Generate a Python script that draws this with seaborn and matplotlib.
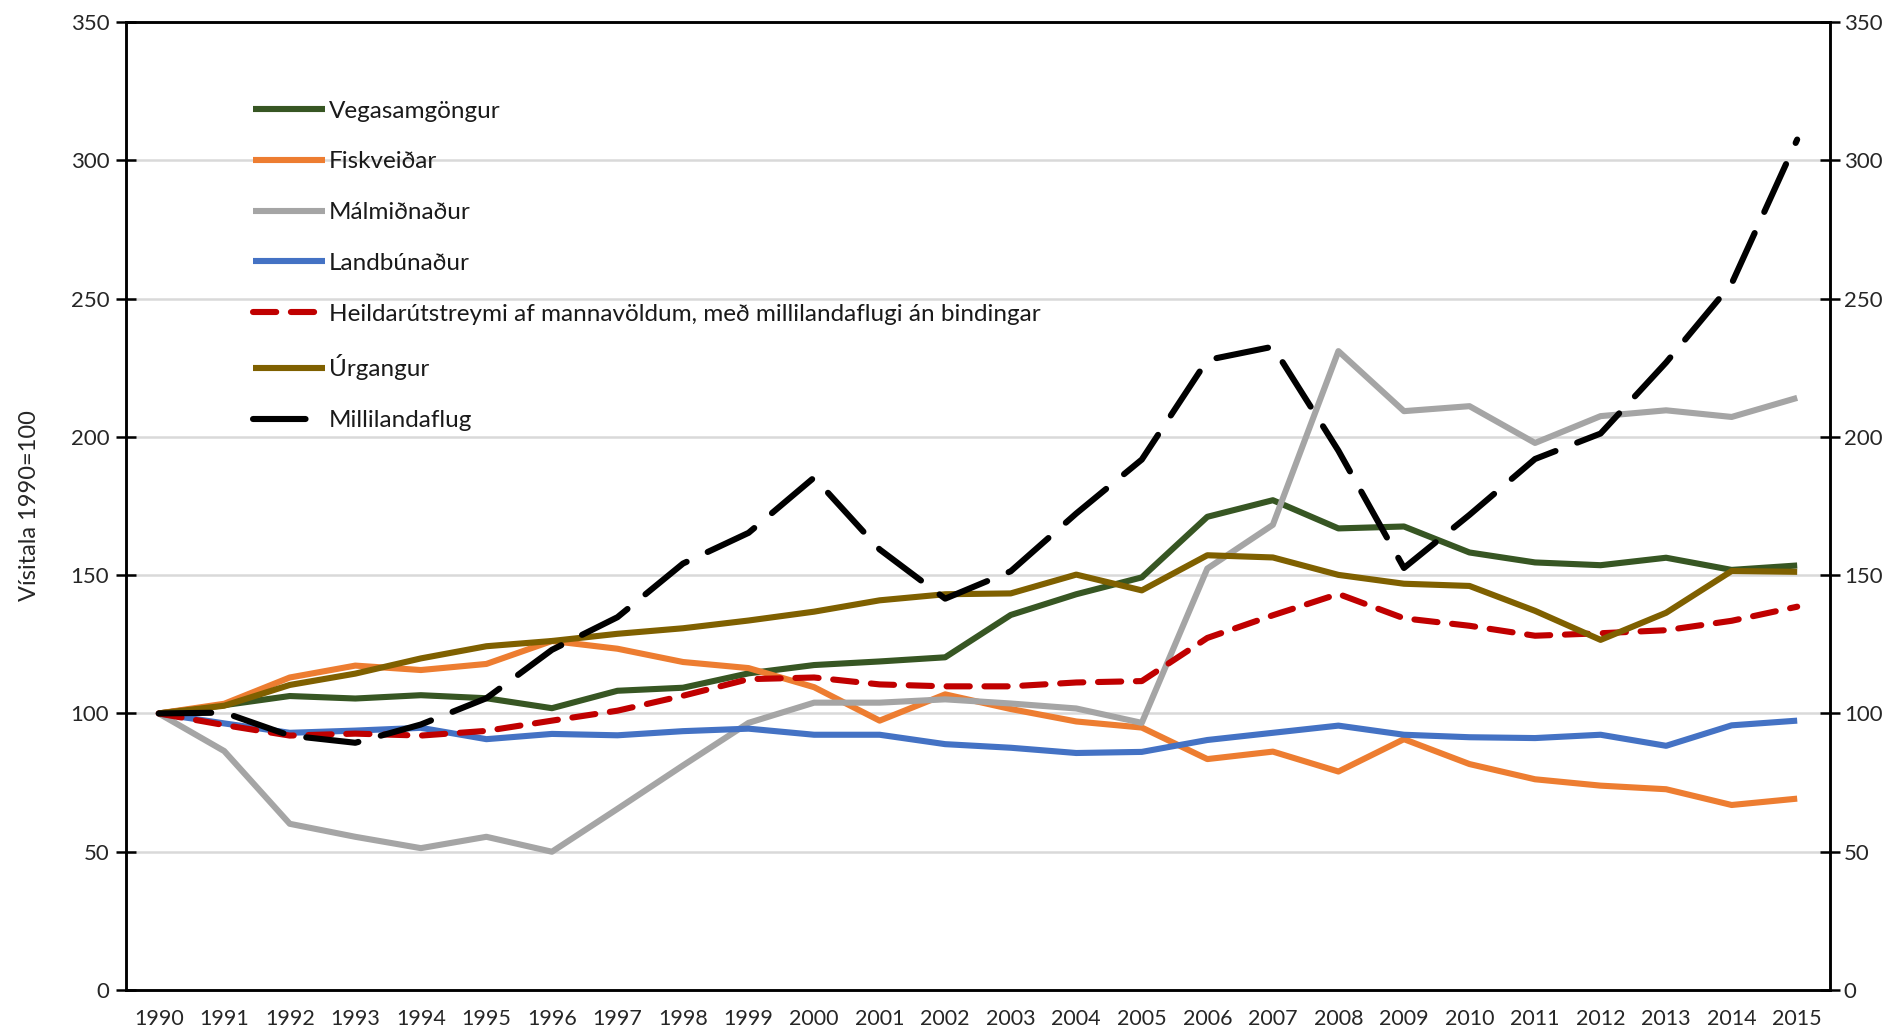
import matplotlib
matplotlib.use("Agg")
import matplotlib.pyplot as plt
import seaborn as sns
import pandas as pd

years = list(range(1990, 2016))

vegasamgongur = [100, 103, 106.3, 105.4, 106.6, 105.5, 101.9, 108.2, 109.3, 114.5, 117.5, 118.8, 120.3,
                 135.6, 143.1, 149.2, 171.1, 177.1, 166.9, 167.6, 158.2, 154.6, 153.6, 156.3, 151.9, 153.5]
fiskveidar = [100, 103.5, 113, 117.3, 115.7, 117.9, 126.2, 123.4, 118.6, 116.4, 109.5, 97.4, 106.9,
              101.6, 97.1, 94.9, 83.5, 86.2, 79.0, 90.7, 81.7, 76.2, 73.9, 72.6, 66.9, 69.2]
malmidnadur = [100, 86.4, 60.1, 55.4, 51.3, 55.4, 50, 65.5, 81.2, 96.6, 103.9, 103.9, 105.1,
               103.6, 101.8, 96.6, 152.4, 168.2, 231, 209.3, 211.1, 197.8, 207.5, 209.6, 207.2, 214.1]
landbunadur = [100, 96.4, 93, 93.8, 94.8, 90.7, 92.6, 92.1, 93.6, 94.5, 92.3, 92.3, 88.9,
               87.6, 85.7, 86.1, 90.4, 93, 95.6, 92.3, 91.4, 91.1, 92.3, 88.3, 95.7, 97.4]
heildar = [100, 95.8, 92, 92.7, 92, 93.7, 97.4, 101, 106.4, 112.4, 113, 110.5, 109.8,
           109.8, 111.2, 111.7, 127.3, 135.5, 143.2, 134.4, 131.7, 128.1, 129, 130.1, 133.5, 138.6]
urgangur = [100, 102.8, 110.3, 114.4, 119.9, 124.3, 126.2, 128.8, 130.8, 133.6, 136.8, 140.9, 143.1,
            143.4, 150.2, 144.5, 157.2, 156.4, 150.1, 146.9, 146.1, 137.1, 126.6, 136.4, 151.5, 151.2]
millilandaflug = [100, 100.3, 92, 89.4, 96, 105.5, 123, 134.8, 154.2, 165.3, 185.3, 159.3, 141.5,
                  151.4, 172.3, 191.8, 227.8, 232.6, 195, 152.6, 171.8, 192, 201.2, 226.9, 255.4, 307.5]

series = [
    ("Vegasamgöngur", vegasamgongur, "#375623", None),
    ("Fiskveiðar", fiskveidar, "#ED7D31", None),
    ("Málmiðnaður", malmidnadur, "#A5A5A5", None),
    ("Landbúnaður", landbunadur, "#4472C4", None),
    ("Heildarútstreymi af mannavöldum, með millilandaflugi án bindingar", heildar, "#C00000", (0, (3.8, 2.4))),
    ("Úrgangur", urgangur, "#7F6000", None),
    ("Millilandaflug", millilandaflug, "#000000", (0, (8.6, 3.8))),
]

yticks = [0, 50, 100, 150, 200, 250, 300, 350]

sns.set_theme(style="white")
plt.rcParams['font.family'] = ['Lato', 'DejaVu Sans']

fig = plt.figure(figsize=(18.85, 10.33), dpi=100)
ax = fig.add_axes([0.0668, 0.0416, 0.9040, 0.9371])

for name, vals, color, dash in series:
    df = pd.DataFrame({"year": years, "value": vals})
    sns.lineplot(data=df, x="year", y="value", ax=ax, color=color, linewidth=4.4, label=name)
    line = ax.get_lines()[-1]
    line.set_solid_capstyle("butt")
    if dash is not None:
        line.set_linestyle(dash)
        line.set_dash_capstyle("round")

ax.set_xlim(1989.5, 2015.5)
ax.set_ylim(0, 350)
ax.set_xticks(years)
ax.set_xticklabels([str(y) for y in years], fontsize=15.5)
ax.set_yticks(yticks)
ax.set_yticklabels([str(v) for v in yticks], fontsize=16)
ax.set_xlabel("")
ax.set_ylabel("Vísitala 1990=100", fontsize=17, labelpad=22)

for v in yticks[1:-1]:
    ax.axhline(v, color="#D9D9D9", linewidth=1.8, zorder=0)

for s in ["left", "right", "top", "bottom"]:
    ax.spines[s].set_visible(True)
    ax.spines[s].set_color("black")
    ax.spines[s].set_linewidth(1.8)

ax.tick_params(axis="y", which="major", direction="inout", length=14, width=1.8, color="black", pad=5)
ax.tick_params(axis="x", which="major", direction="out", length=8, width=1.8, color="black", pad=6)

ax2 = ax.twinx()
ax2.set_ylim(0, 350)
ax2.set_yticks(yticks)
ax2.set_yticklabels([str(v) for v in yticks], fontsize=16)
ax2.tick_params(axis="y", which="major", direction="inout", length=14, width=1.8, color="black", pad=3)
for s in ["left", "right", "top", "bottom"]:
    ax2.spines[s].set_color("black")
    ax2.spines[s].set_linewidth(1.8)
ax2.grid(False)
ax.grid(False)

leg = ax.legend(loc="upper left", bbox_to_anchor=(0.062, 0.9415), frameon=False, fontsize=17.5,
                handlelength=2.96, labelspacing=1.225, handletextpad=0.15)
for t in leg.get_texts():
    t.set_color("#1a1a1a")

fig.savefig("out.png", dpi=100)
